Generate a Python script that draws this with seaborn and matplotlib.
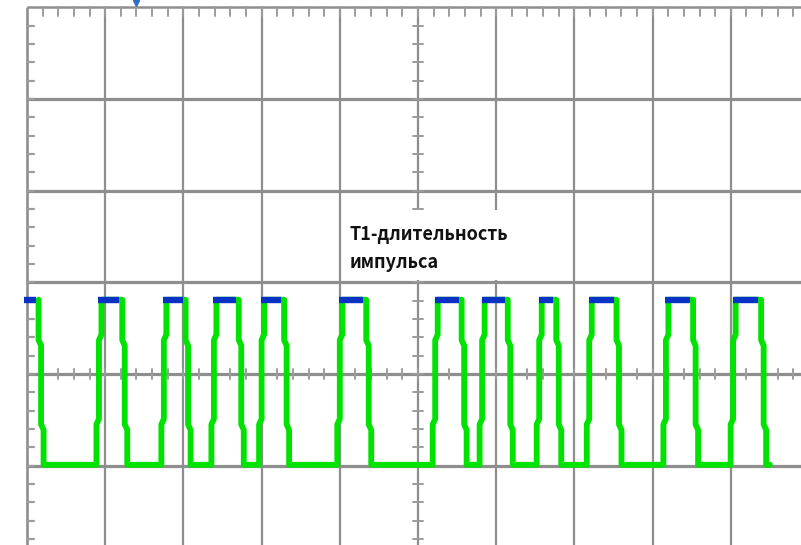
import numpy as np
import pandas as pd
import seaborn as sns
from matplotlib import pyplot as plt
from matplotlib.patches import Rectangle

# waveform, time in screen divisions (10 div across, centre line = 0 V)
fall_t = [0.18, 1.25, 2.06, 2.74, 3.32, 4.37, 5.59, 6.18, 6.80, 7.57, 8.55, 9.42]
rise_t = [0.92, 1.75, 2.39, 3.00, 4.00, 5.22, 5.82, 6.55, 7.19, 8.17, 9.03]
high_lvl = 0.81
low_lvl = -0.99
kink_hi = 0.37
kink_lo = -0.55
start_t = -0.04
end_t = 9.50
label = "T1-длительность\nимпульса"

sns.set_style("white")

d = 0.032   # half width of an edge
s = 0.06    # little slant at the kinks
hw = 0.038  # half of the green line width, in divisions


def falling(t):
    return [(t - d, high_lvl), (t - d, kink_hi), (t, kink_hi - s), (t, kink_lo),
            (t + d, kink_lo - s), (t + d, low_lvl)]


def rising(t):
    return [(t - d, low_lvl), (t - d, kink_lo), (t, kink_lo + s), (t, kink_hi),
            (t + d, kink_hi + s), (t + d, high_lvl)]


pts = []
for i, tf in enumerate(fall_t):
    pts += falling(tf)
    if i < len(rise_t):
        pts += rising(rise_t[i])
pts.append((end_t, low_lvl))
wave = pd.DataFrame(pts, columns=["t", "v"])

# blue marks on the top level of each pulse
tops = []
starts = [start_t] + [r + d - hw for r in rise_t]
for k, (a, b) in enumerate(zip(starts, fall_t)):
    tops.append({"seg": k, "t": a, "v": high_lvl})
    tops.append({"seg": k, "t": b - d - hw, "v": high_lvl})
tops = pd.DataFrame(tops)

fig = plt.figure(figsize=(8.01, 5.45), dpi=100)
ax = fig.add_axes([0, 0, 1, 1])
x_lo, x_hi = -27 / 78.2, (801 - 27) / 78.2
y_lo, y_hi = (374 - 545) / 91.7, 374 / 91.7

# graticule
gc = "#8e8e8e"
for x in range(0, 10):
    ax.plot([x, x], [y_lo, 4], color=gc, lw=1.6 if x else 1.9, zorder=1, solid_capstyle="butt")
for y in range(-1, 5):
    ax.plot([0, x_hi], [y, y], color=gc, lw=2.3 if y != 4 else 1.8, zorder=1, solid_capstyle="butt")

mc = "#9c9c9c"
for k in range(1, 50):
    x = k * 0.2
    ax.plot([x, x], [4, 3.9], color=mc, lw=1.4, zorder=1)
    ax.plot([x, x], [-0.055, 0.055], color=mc, lw=1.4, zorder=1)
for k in range(-9, 20):
    y = k * 0.2
    if y > 4:
        continue
    ax.plot([0, 0.09], [y, y], color=mc, lw=1.6, zorder=1)
    ax.plot([4.936, 5.064], [y, y], color=mc, lw=1.4, zorder=1)

# text box
ax.add_patch(Rectangle((4.03, 1.02), 2.94, 0.77, facecolor="white", edgecolor="none", zorder=2))
for line, yb in zip(label.split("\n"), [1.461, 1.156]):
    ax.text(4.13, yb, line, fontsize=13, fontweight="bold",
            family=["Noto Sans CJK SC", "DejaVu Sans"],
            va="baseline", ha="left", color="#111111", zorder=3)

sns.lineplot(data=wave, x="t", y="v", sort=False, estimator=None, color="#00e200",
             lw=4.2, ax=ax, zorder=4)
sns.lineplot(data=tops, x="t", y="v", units="seg", sort=False, estimator=None, color="#0732c4",
             lw=4.6, ax=ax, zorder=5, solid_capstyle="butt")

ax.plot([1.39], [4.05], marker="v", ms=5, color="#2f6fc0", zorder=5)
ax.set_xlim(x_lo, x_hi)
ax.set_ylim(y_lo, y_hi)
ax.axis("off")

fig.savefig("out.png", dpi=100)
